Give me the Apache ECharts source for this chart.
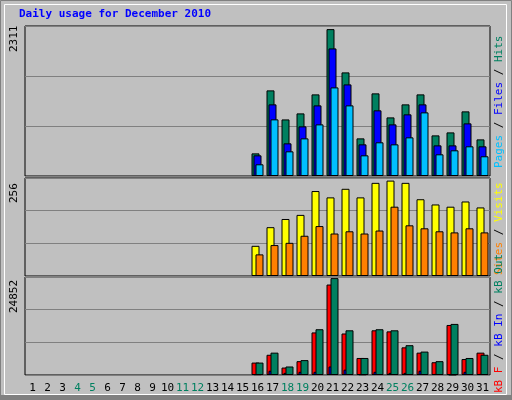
<!DOCTYPE html>
<html>
<head>
<meta charset="UTF-8">
<title>Daily usage for December 2010</title>
<script src="https://cdn.jsdelivr.net/npm/echarts@6/dist/echarts.min.js"></script>
<style>
  html, body { margin: 0; padding: 0; background: #c0c0c0; }
  #chart { width: 512px; height: 400px; }
</style>
</head>
<body>
<div id="chart"></div>
<script>
    var days = [];
    for (var d = 1; d <= 31; d++) days.push(String(d));
    var weekend = ['4', '5', '11', '12', '18', '19', '25', '26'];

    // days 1..15 have no data
    var blank = ['-','-','-','-','-','-','-','-','-','-','-','-','-','-','-'];
    var hits  = blank.concat([356,1347,890,985,1284,2311,1630,592,1300,922,1127,1284,639,686,1017,576]);
    var files = blank.concat([325,1127,514,781,1111,2007,1441,498,1033,812,970,1127,482,482,828,467]);
    var pages = blank.concat([184,891,388,592,812,1394,1111,325,530,498,608,1001,341,404,467,310]);
    var visits = blank.concat([81,131,153,164,228,211,234,211,250,256,250,206,192,186,200,184]);
    var sites  = blank.concat([58,83,89,108,134,114,120,114,122,186,136,128,120,117,128,117]);
    var kbF   = blank.concat([3185,5187,1911,3549,10920,23205,10647,4368,11466,11193,7098,5733,3276,12831,4095,5733]);
    var kbIn  = blank.concat([200,1092,546,819,819,2184,1365,182,819,546,546,1092,273,100,819,273]);
    var kbOut = blank.concat([3185,5733,2184,3822,11739,24852,11466,4368,11739,11466,7644,6006,3549,13104,4368,5187]);

    var L = 25, W = 465;
    var grids = [
        {left: L, width: W, top: 26, height: 150},
        {left: L, width: W, top: 178, height: 98},
        {left: L, width: W, top: 277, height: 98}
    ];
    grids.forEach(function (g) { g.show = true; g.borderColor = '#000'; g.borderWidth = 1; g.backgroundColor = '#c0c0c0'; });

    function xAx(i, showLabel) {
        return {
            type: 'category', gridIndex: i, data: days,
            axisLine: {show: false}, axisTick: {show: false},
            axisLabel: {
                show: showLabel, margin: 8, fontFamily: 'DejaVu Sans Mono', fontSize: 11, interval: 0,
                color: function (v) { return weekend.indexOf(v) >= 0 ? '#008060' : '#000'; }
            }
        };
    }
    function yAx(i, max) {
        return {
            type: 'value', gridIndex: i, min: 0, max: max, interval: max / 3,
            axisLabel: {show: false}, axisLine: {show: false}, axisTick: {show: false},
            splitLine: {lineStyle: {color: '#808080', width: 1}}
        };
    }
    function bar(name, data, i, color, gap) {
        return {
            name: name, type: 'bar', xAxisIndex: i, yAxisIndex: i, data: data,
            barWidth: 8, barGap: gap, silent: true, animation: false,
            itemStyle: {color: color, borderColor: '#000', borderWidth: 1}
        };
    }

    function sideText(x, y, rich, parts) {
        return {
            type: 'text', x: x, y: y, rotation: Math.PI / 2,
            style: {rich: rich, text: parts, font: '11px DejaVu Sans Mono', fill: '#000'}
        };
    }
    var richTop = {p: {fill: '#00c0ff'}, f: {fill: '#0000ff'}, h: {fill: '#008060'}, s: {fill: '#000'}};
    var richMid = {v: {fill: '#ffff00'}, s2: {fill: '#ff8000'}, s: {fill: '#000'}};
    var richBot = {f: {fill: '#ff0000'}, i: {fill: '#0000ff'}, o: {fill: '#008060'}, s: {fill: '#000'}};

    var myChart = echarts.init(document.getElementById('chart'));
    myChart.setOption({
        animation: false,
        backgroundColor: '#c0c0c0',
        grid: grids,
        xAxis: [xAx(0, false), xAx(1, false), xAx(2, true)],
        yAxis: [yAx(0, 2360), yAx(1, 263), yAx(2, 25140)],
        series: [
            bar('Hits', hits, 0, '#008060', '-75%'),
            bar('Files', files, 0, '#0000ff', '-75%'),
            bar('Pages', pages, 0, '#00c0ff', '-75%'),
            bar('Visits', visits, 1, '#ffff00', '-50%'),
            bar('Sites', sites, 1, '#ff8000', '-50%'),
            bar('kB F', kbF, 2, '#ff0000', '-75%'),
            bar('kB In', kbIn, 2, '#0000ff', '-75%'),
            bar('kB Out', kbOut, 2, '#008060', '-75%')
        ],
        graphic: [
            {type: 'rect', shape: {x: 0.5, y: 0.5, width: 511, height: 399}, style: {fill: null, stroke: '#808080'}, z: 10},
            {type: 'rect', shape: {x: 4.5, y: 4.5, width: 502, height: 390}, style: {fill: null, stroke: '#fff'}, z: 10},
            {type: 'rect', shape: {x: 0, y: 395, width: 512, height: 5}, style: {fill: '#808080'}, z: 10},
            {type: 'text', x: 19, y: 9, style: {text: 'Daily usage for December 2010', font: 'bold 11px DejaVu Sans Mono', fill: '#0000ff'}},
            {type: 'text', x: 9, y: 52, rotation: Math.PI / 2, style: {text: '2311', font: '11px DejaVu Sans Mono', fill: '#000'}},
            {type: 'text', x: 9, y: 203, rotation: Math.PI / 2, style: {text: '256', font: '11px DejaVu Sans Mono', fill: '#000'}},
            {type: 'text', x: 9, y: 313, rotation: Math.PI / 2, style: {text: '24852', font: '11px DejaVu Sans Mono', fill: '#000'}},
            sideText(494, 168, richTop, '{p|Pages}{s| / }{f|Files}{s| / }{h|Hits}'),
            sideText(494, 275, richMid, '{s2|Sites}{s| / }{v|Visits}'),
            sideText(494, 393, richBot, '{f|kB F}{s| / }{i|kB In}{s| / }{o|kB Out}')
        ]
    });
</script>
</body>
</html>
